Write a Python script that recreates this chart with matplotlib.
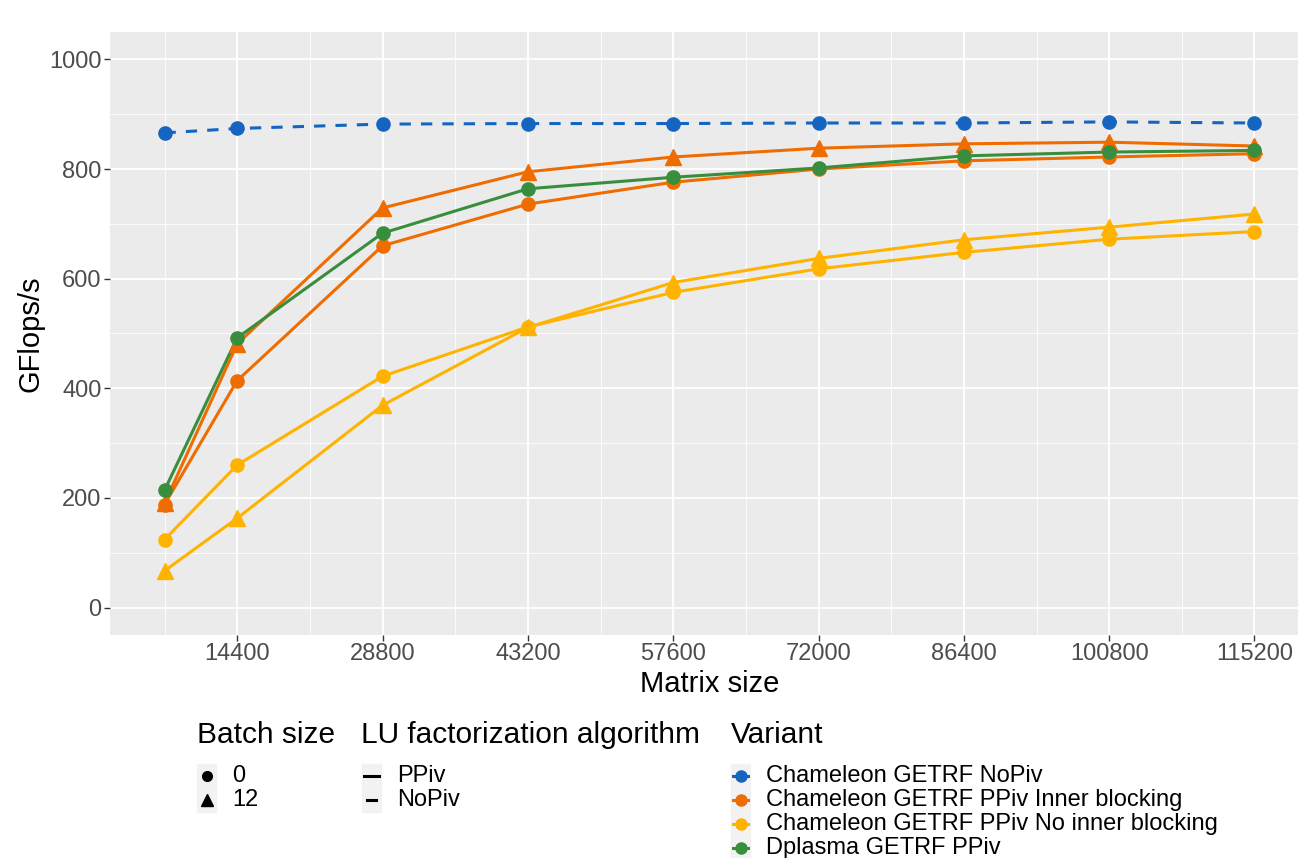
import matplotlib.pyplot as plt
from matplotlib.lines import Line2D
from matplotlib.patches import Rectangle

plt.rcParams['font.family'] = ['Liberation Sans', 'DejaVu Sans']

# matrix sizes on the x axis
sizes = [7200, 14400, 28800, 43200, 57600, 72000, 86400, 100800, 115200]
xticks = [14400, 28800, 43200, 57600, 72000, 86400, 100800, 115200]

# GFlops/s
nopiv_b0 = [866, 874, 882, 883, 883, 884, 884, 886, 884]
inner_b0 = [188, 414, 660, 736, 776, 800, 815, 822, 828]
inner_b12 = [190, 481, 729, 795, 822, 838, 846, 849, 842]
noinner_b0 = [124, 260, 422, 512, 575, 618, 648, 672, 686]
noinner_b12 = [67, 163, 369, 511, 593, 637, 671, 694, 718]
dplasma_b0 = [214, 492, 683, 764, 785, 802, 824, 831, 834]

variants = ['Chameleon GETRF NoPiv', 'Chameleon GETRF PPiv Inner blocking',
            'Chameleon GETRF PPiv No inner blocking', 'Dplasma GETRF PPiv']
colors = ['#1565C0', '#EF6C00', '#FFB300', '#388E3C']
batch_labels = ['0', '12']
algo_labels = ['PPiv', 'NoPiv']

# (values, variant index, batch index, algo index)
series = [
    (nopiv_b0, 0, 0, 1),
    (inner_b0, 1, 0, 0),
    (inner_b12, 1, 1, 0),
    (noinner_b0, 2, 0, 0),
    (noinner_b12, 2, 1, 0),
    (dplasma_b0, 3, 0, 0),
]
markers = ['o', '^']
dash_styles = ['-', (0, (3.7, 3.3))]

W, H = 1298, 858
fig = plt.figure(figsize=(W / 100, H / 100), dpi=100)

# panel in pixel coordinates (runs a bit past the right edge like the original)
left, right, top, bottom = 110, 1309, 32, 635
ax = fig.add_axes([left / W, 1 - bottom / H, (right - left) / W, (bottom - top) / H])
ax.set_facecolor('#EBEBEB')
for s in ax.spines.values():
    s.set_visible(False)

ax.set_xlim(1800, 120600)
ax.set_ylim(-50, 1050)
ax.set_xticks(xticks)
ax.set_xticks([7200 + 14400 * i for i in range(8)], minor=True)
ax.set_yticks(range(0, 1001, 200))
ax.set_yticks(range(100, 1000, 200), minor=True)
ax.grid(which='major', color='white', lw=1.3)
ax.grid(which='minor', color='white', lw=0.6)
ax.set_axisbelow(True)
ax.tick_params(which='major', length=4, width=1, color='#333333',
               labelsize=17, labelcolor='#4D4D4D', pad=2)
ax.tick_params(which='minor', length=0)

for vals, vi, bi, ai in series:
    ax.plot(sizes, vals, color=colors[vi], lw=2.2, ls=dash_styles[ai], zorder=2)
for vals, vi, bi, ai in series:
    ms = 9.5 if bi == 0 else 11
    ax.plot(sizes, vals, ls='none', marker=markers[bi], ms=ms,
            color=colors[vi], mec=colors[vi], zorder=3)

ax.set_xlabel('Matrix size', fontsize=21, labelpad=3)
ax.set_ylabel('GFlops/s', fontsize=21, labelpad=3)

# legends drawn on an overlay in pixel coordinates
lg = fig.add_axes([0, 0, 1, 1])
lg.set_xlim(0, W)
lg.set_ylim(H, 0)
lg.axis('off')

title_y = 735
row_y = [776, 800, 824, 848]

def key_bg(x0, n):
    lg.add_patch(Rectangle((x0, row_y[0] - 12), 19, 24 * n, color='#F2F2F2', zorder=1))

# Batch size
lg.text(197, title_y, 'Batch size', fontsize=21.5, va='center', ha='left')
key_bg(197, 2)
for i, lab in enumerate(batch_labels):
    lg.add_line(Line2D([206.5], [row_y[i]], marker=markers[i], ms=7 if i == 0 else 8.5,
                       color='black', ls='none', zorder=2))
    lg.text(232, row_y[i], lab, fontsize=17, va='center', ha='left')

# LU factorization algorithm
lg.text(361, title_y, 'LU factorization algorithm', fontsize=21.5, va='center', ha='left')
key_bg(362, 2)
lg.add_line(Line2D([364, 379], [row_y[0], row_y[0]], color='black', lw=2.2, zorder=2))
lg.add_line(Line2D([367, 376], [row_y[1], row_y[1]], color='black', lw=2.2, zorder=2))
for i, lab in enumerate(algo_labels):
    lg.text(397, row_y[i], lab, fontsize=17, va='center', ha='left')

# Variant
lg.text(731, title_y, 'Variant', fontsize=21.5, va='center', ha='left')
key_bg(731, 4)
for i, lab in enumerate(variants):
    lg.add_line(Line2D([733, 748], [row_y[i], row_y[i]], color=colors[i], lw=2.2, zorder=2))
    lg.add_line(Line2D([740.5], [row_y[i]], marker='o', ms=8, color=colors[i],
                       ls='none', zorder=3))
    lg.text(766, row_y[i], lab, fontsize=17, va='center', ha='left')

fig.savefig('out.png', dpi=100)
